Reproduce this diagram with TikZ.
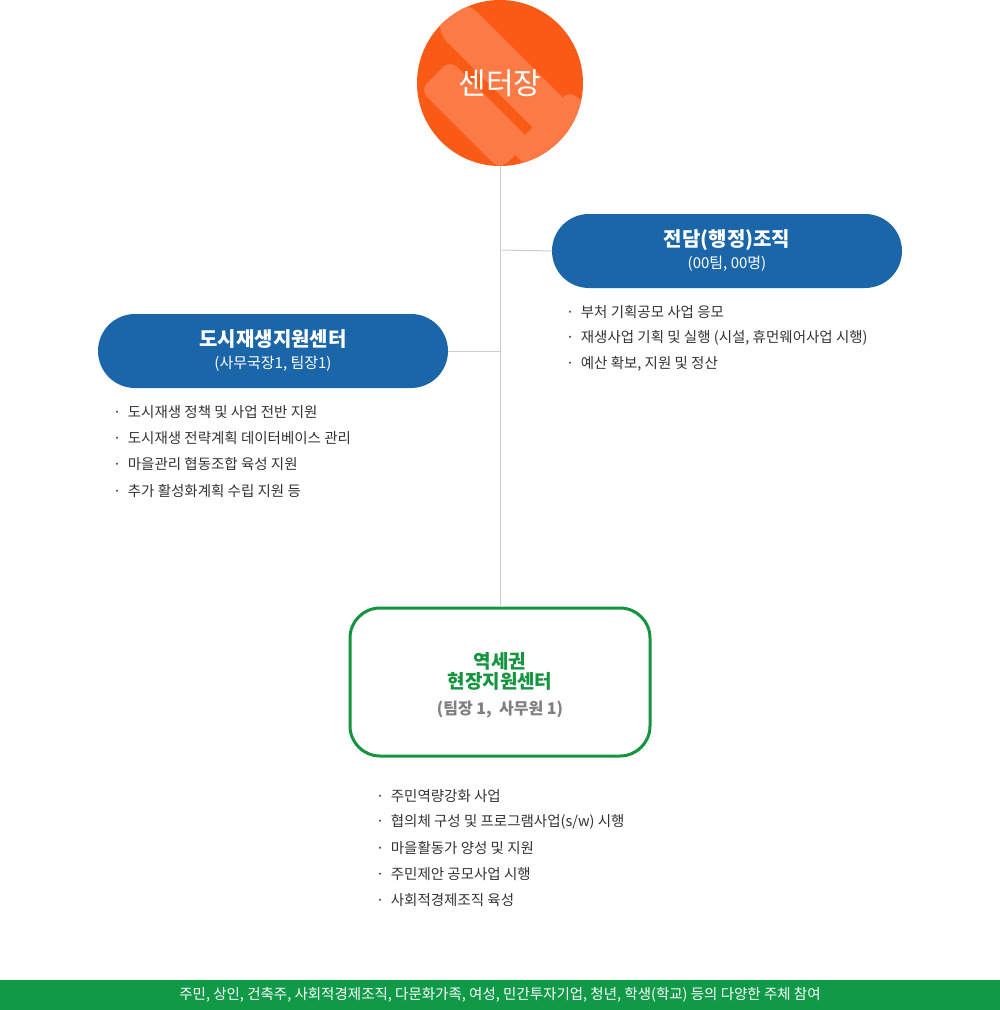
\documentclass[tikz,border=0pt]{standalone}
\usepackage{fontspec}
\setmainfont{Noto Sans CJK KR}
\usetikzlibrary{positioning}
\definecolor{headorange}{HTML}{F95A16}
\definecolor{lightorange}{HTML}{FC7A45}
\definecolor{teamblue}{HTML}{1B66A8}
\definecolor{darkblue}{HTML}{185C98}
\definecolor{sitegreen}{HTML}{14943F}
\definecolor{bargreen}{HTML}{109A48}
\definecolor{linegray}{HTML}{CCCCCC}
\definecolor{textgray}{HTML}{333333}
\tikzset{
  teambox/.style={fill=teamblue, rounded corners=37pt, minimum width=350pt, minimum height=74pt, text=white, align=center, font=\fontsize{20}{24}\selectfont\bfseries},
  sitebox/.style={draw=sitegreen, line width=3pt, fill=white, rounded corners=30pt, minimum width=300pt, minimum height=148pt, align=center},
  duty/.style={anchor=west, text=textgray, font=\fontsize{14.5}{17}\selectfont, inner sep=0pt},
  link/.style={draw=linegray, line width=1pt}
}
\begin{document}
\begin{tikzpicture}[x=1pt,y=-1pt]
  \useasboundingbox (0,0) rectangle (1000,1010);
  % head
  \begin{scope}
    \clip (500,83) circle (83);
    \fill[headorange] (400,0) rectangle (600,170);
    \fill[lightorange, rounded corners=10pt] (440,5) -- (470,5) -- (590,125) -- (560,155) -- (440,35) -- cycle;
    \fill[lightorange, rounded corners=10pt] (420,90) -- (450,60) -- (530,140) -- (500,170) -- cycle;
    \fill[lightorange, rounded corners=10pt] (510,150) -- (570,90) -- (590,110) -- (530,170) -- cycle;
  \end{scope}
  \node[text=white, font=\fontsize{30}{34}\selectfont] (head) at (500,83) {센터장};
  \coordinate (headbot) at (500,166);
  % teams
  \node[teambox] (admin) at (727,251) {전담(행정)조직\\[-2pt]{\fontsize{15}{18}\selectfont\mdseries (00팀, 00명)}};
  \node[teambox] (regen) at (273,351) {도시재생지원센터\\[-2pt]{\fontsize{15}{18}\selectfont\mdseries (사무국장1, 팀장1)}};
  \node[sitebox] (site) at (500,682) {};
  \node[text=sitegreen, font=\fontsize{19}{23}\selectfont\bfseries, align=center] at (500,671) {역세권\\[-3pt]현장지원센터};
  \node[text=gray, font=\fontsize{16}{19}\selectfont\bfseries] at (500,710) {(팀장 1,\ \ 사무원 1)};
  \coordinate (j1) at (500,250);
  \coordinate (j2) at (500,351);
  \draw[link] (headbot) -- (site.north);
  \draw[link] (j1) -- (admin.west);
  \draw[link] (j2) -- (regen.east);
  % duties
  \node[duty] (a1) at (566,312) {·\ \ 부처 기획공모 사업 응모};
  \node[duty] (a2) at (566,338) {·\ \ 재생사업 기획 및 실행 (시설, 휴먼웨어사업 시행)};
  \node[duty] (a3) at (566,364) {·\ \ 예산 확보, 지원 및 정산};
  \node[duty] (r1) at (113,412) {·\ \ 도시재생 정책 및 사업 전반 지원};
  \node[duty] (r2) at (113,438) {·\ \ 도시재생 전략계획 데이터베이스 관리};
  \node[duty] (r3) at (113,464) {·\ \ 마을관리 협동조합 육성 지원};
  \node[duty] (r4) at (113,491) {·\ \ 추가 활성화계획 수립 지원 등};
  \node[duty] (s1) at (376,796) {·\ \ 주민역량강화 사업};
  \node[duty] (s2) at (376,822) {·\ \ 협의체 구성 및 프로그램사업(s/w) 시행};
  \node[duty] (s3) at (376,848) {·\ \ 마을활동가 양성 및 지원};
  \node[duty] (s4) at (376,874) {·\ \ 주민제안 공모사업 시행};
  \node[duty] (s5) at (376,900) {·\ \ 사회적경제조직 육성};
  % bottom bar
  \fill[bargreen] (0,980) rectangle (1000,1010);
  \node[text=white, font=\fontsize{14.5}{17}\selectfont] (bar) at (500,995) {주민, 상인, 건축주, 사회적경제조직, 다문화가족, 여성, 민간투자기업, 청년, 학생(학교) 등의 다양한 주체 참여};
\end{tikzpicture}
\end{document}
